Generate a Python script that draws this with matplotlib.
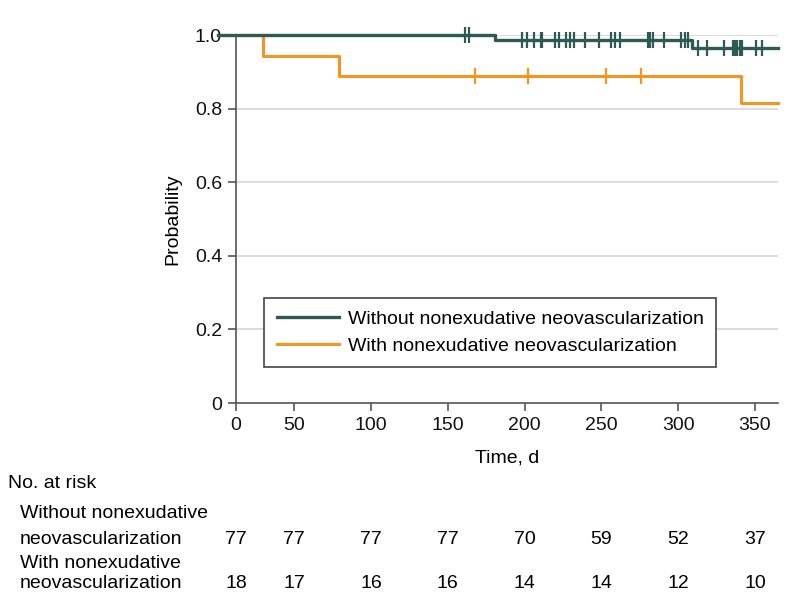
import matplotlib

matplotlib.use("Agg")
import matplotlib.pyplot as plt
import matplotlib.transforms as mtransforms
import numpy as np

# Kaplan-Meier steps (days, probability)
without_times = [0, 181, 309, 365]
without_surv = [1.0, 0.987, 0.966, 0.966]
without_censor = [160.9, 163.5, 198.4, 201.6, 206.0, 210.5, 211.5, 219.6, 222.2,
                  227.2, 229.4, 232.0, 239.1, 248.7, 256.2, 259.1, 261.9, 280.2,
                  281.8, 283.3, 290.9, 301.9, 304.5, 306.7, 312.7, 318.6, 329.6,
                  335.5, 336.8, 338.1, 340.0, 341.4, 351.0, 354.9]

with_times = [0, 29.4, 79.3, 340.7, 365]
with_surv = [1.0, 0.944, 0.889, 0.815, 0.815]
with_censor = [167.4, 202.0, 253.2, 275.7]

# number at risk table
risk_times = [0, 50, 100, 150, 200, 250, 300, 350]
risk_without = [77, 77, 77, 77, 70, 59, 52, 37]
risk_with = [18, 17, 16, 16, 14, 14, 12, 10]

label_without = "Without nonexudative neovascularization"
label_with = "With nonexudative neovascularization"

GREEN = "#2e5a56"
ORANGE = "#f7941d"
X_START = 12  # left edge of the axis, labelled "0" in the original

plt.rcParams.update({
    "font.family": ["Liberation Sans Narrow", "Liberation Sans", "DejaVu Sans"],
    "font.size": 14,
})


def step_value(times, surv, t):
    idx = np.searchsorted(np.asarray(times), t, side="right") - 1
    return np.asarray(surv)[idx]


fig = plt.figure(figsize=(7.94, 6.12), dpi=100)
ax = fig.add_axes([0.2972, 0.3415, 0.6826, 0.6013])

for y in [0.2, 0.4, 0.6, 0.8, 1.0]:
    ax.axhline(y, color="#d9d9d9", linewidth=1.3, zorder=0)

ax.step(with_times, with_surv, where="post", color=ORANGE, linewidth=2.2,
        label=label_with, zorder=3, clip_on=False)
ax.plot(with_censor, step_value(with_times, with_surv, with_censor), linestyle="none",
        marker="|", markersize=11, markeredgewidth=1.6, color=ORANGE, zorder=3,
        clip_on=False)

ax.step(without_times, without_surv, where="post", color=GREEN, linewidth=2.4,
        label=label_without, zorder=4, clip_on=False)
ax.plot(without_censor, step_value(without_times, without_surv, without_censor),
        linestyle="none", marker="|", markersize=11, markeredgewidth=1.6,
        color=GREEN, zorder=4, clip_on=False)

ax.set_xlim(X_START, 365)
ax.set_ylim(0, 1.0)
xt = [X_START] + risk_times[1:]
ax.set_xticks(xt)
ax.set_xticklabels([str(t) for t in risk_times])
ax.set_yticks([0, 0.2, 0.4, 0.6, 0.8, 1.0])
ax.set_yticklabels(["0", "0.2", "0.4", "0.6", "0.8", "1.0"])

for side in ["top", "right"]:
    ax.spines[side].set_visible(False)
for side in ["left", "bottom"]:
    ax.spines[side].set_color("#555555")
    ax.spines[side].set_linewidth(1.2)
ax.tick_params(direction="out", length=6, width=1.2, color="#555555",
               labelcolor="#111111", pad=4)

ax.set_xlabel("Time, d", labelpad=11)
ax.set_ylabel("Probability", labelpad=10)

handles, labels = ax.get_legend_handles_labels()
order = [labels.index(label_without), labels.index(label_with)]
leg = ax.legend([handles[i] for i in order], [labels[i] for i in order],
                loc="upper left", bbox_to_anchor=(0.0517, 0.2853), borderaxespad=0,
                fancybox=False, framealpha=1, edgecolor="#444444",
                handlelength=3.2, handletextpad=0.45, labelspacing=0.45,
                borderpad=0.65)
leg.get_frame().set_linewidth(1.2)

# number at risk table
trans = mtransforms.blended_transform_factory(ax.transData, fig.transFigure)
fig.text(0.010, 1 - 484 / 612, "No. at risk", ha="left", va="center")
fig.text(0.025, 1 - 514 / 612, "Without nonexudative", ha="left", va="center")
fig.text(0.025, 1 - 540 / 612, "neovascularization", ha="left", va="center")
fig.text(0.025, 1 - 563 / 612, "With nonexudative", ha="left", va="center")
fig.text(0.025, 1 - 583 / 612, "neovascularization", ha="left", va="center")
for t, a, b in zip(xt, risk_without, risk_with):
    ax.text(t, 1 - 540 / 612, str(a), ha="center", va="center", transform=trans)
    ax.text(t, 1 - 583 / 612, str(b), ha="center", va="center", transform=trans)

fig.savefig("out.png", dpi=100)
plt.close(fig)
